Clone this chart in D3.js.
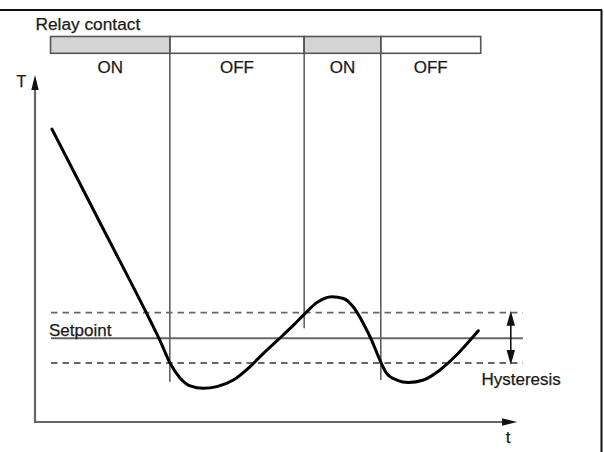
<!DOCTYPE html>
<html>
<head>
<meta charset="utf-8">
<script src="https://cdn.jsdelivr.net/npm/d3@7"></script>
<style>
  html, body { margin: 0; padding: 0; background: #fff; }
  svg { display: block; }
  text { font-family: "Liberation Sans", Arial, Helvetica, sans-serif; fill: #1a1a1a; stroke: #1a1a1a; stroke-width: 0.25px; }
</style>
</head>
<body>
<svg id="chart" width="604" height="452"></svg>
<script>
// ---- data (t and T in arbitrary units 0..100) ----
const relayStates = ["ON", "OFF", "ON", "OFF"];
const relaySwitchTimes = [3.2, 27.8, 55.5, 71.3, 91.9];
const dividerBottomT = [11.6, 27.0, 12.1];     // lower end of each switching line
const curveT = [3.5, 13.6, 23.7, 25.8, 27.8, 29.9, 32.0, 34.7, 37.5, 40.9, 44.3, 47.1, 50.2, 53.3, 55.5, 58.1, 61.2, 63.6, 65.6, 67.7, 69.4, 71.1, 72.5, 74.6, 77.0, 80.1, 83.5, 86.9, 91.4];
const curveTemp = [84.4, 56.9, 29.4, 23.4, 17.1, 12.7, 10.4, 9.7, 10.2, 12.1, 15.9, 19.8, 23.8, 27.9, 31.0, 34.4, 36.1, 35.6, 33.2, 28.4, 23.6, 17.9, 14.0, 12.1, 11.4, 12.1, 15.0, 19.3, 26.3];
const setpoint = 24.1;
const hystUpper = 31.5;
const hystLower = 17.0;
const bandStart = 3.3, bandEnd = 100.6;
const hystArrowT = 98.1;
const axisMaxT = 99.4, axisMaxTemp = 100;

const svg = d3.select("#chart");
const x = d3.scaleLinear().domain([0, 100]).range([35, 520]);
const y = d3.scaleLinear().domain([0, 100]).range([422, 75]);

// frame
svg.append("line").attr("x1", 0).attr("x2", 602).attr("y1", 10).attr("y2", 10)
  .attr("stroke", "#111").attr("stroke-width", 2);
svg.append("line").attr("x1", 601.5).attr("x2", 601.5).attr("y1", 10).attr("y2", 452)
  .attr("stroke", "#111").attr("stroke-width", 2);

// relay bar
const barTop = 36.5, barH = 16.8;
const segs = relayStates.map((s, i) => ({ s, a: relaySwitchTimes[i], b: relaySwitchTimes[i + 1] }));
svg.selectAll("rect.seg").data(segs).enter().append("rect")
  .attr("x", d => x(d.a)).attr("y", barTop)
  .attr("width", d => x(d.b) - x(d.a)).attr("height", barH)
  .attr("fill", d => d.s === "ON" ? "#d4d4d4" : "#fff")
  .attr("stroke", "#555").attr("stroke-width", 1.6);
svg.selectAll("text.state").data(segs).enter().append("text")
  .attr("x", d => (x(d.a) + x(d.b)) / 2).attr("y", 72.7)
  .attr("text-anchor", "middle").attr("font-size", 17).text(d => d.s);
svg.append("text").attr("x", 35.5).attr("y", 30).attr("font-size", 17.3).text("Relay contact");

// switching lines
svg.selectAll("line.div").data(relaySwitchTimes.slice(1, 4)).enter().append("line")
  .attr("x1", d => x(d)).attr("x2", d => x(d))
  .attr("y1", barTop).attr("y2", (d, i) => y(dividerBottomT[i]))
  .attr("stroke", "#555").attr("stroke-width", 1.5);

// hysteresis band
[hystUpper, hystLower].forEach(v => {
  svg.append("line").attr("x1", x(bandStart)).attr("x2", x(bandEnd))
    .attr("y1", y(v)).attr("y2", y(v))
    .attr("stroke", "#666").attr("stroke-width", 1.8).attr("stroke-dasharray", "6.5,5");
});
svg.append("line").attr("x1", x(bandStart)).attr("x2", x(bandEnd))
  .attr("y1", y(setpoint)).attr("y2", y(setpoint))
  .attr("stroke", "#666").attr("stroke-width", 2);
svg.append("text").attr("x", 49).attr("y", 335.7).attr("font-size", 17).text("Setpoint");

// hysteresis double arrow
const ha = x(hystArrowT);
svg.append("line").attr("x1", ha).attr("x2", ha).attr("y1", y(hystUpper) + 8).attr("y2", y(hystLower) - 8)
  .attr("stroke", "#111").attr("stroke-width", 1.6);
svg.append("path").attr("d", `M${ha},${y(hystUpper) - 2} l-4.2,15 l8.4,0 z`).attr("fill", "#111");
svg.append("path").attr("d", `M${ha},${y(hystLower) + 2} l-4.2,-15 l8.4,0 z`).attr("fill", "#111");
svg.append("text").attr("x", 481.5).attr("y", 385).attr("font-size", 17).text("Hysteresis");

// axes
svg.append("line").attr("x1", x(0)).attr("x2", x(0)).attr("y1", y(0) + 1).attr("y2", y(axisMaxTemp) + 12)
  .attr("stroke", "#666").attr("stroke-width", 2.2);
svg.append("line").attr("x1", x(0) - 1).attr("x2", x(axisMaxT) - 12).attr("y1", y(0)).attr("y2", y(0))
  .attr("stroke", "#666").attr("stroke-width", 2.2);
svg.append("path").attr("d", `M${x(0)},${y(axisMaxTemp)} l-3.7,15 l7.4,0 z`).attr("fill", "#111");
svg.append("path").attr("d", `M${x(axisMaxT)},${y(0)} l-15,-3.7 l0,7.4 z`).attr("fill", "#111");
svg.append("text").attr("x", 16.5).attr("y", 87).attr("font-size", 16).text("T");
svg.append("text").attr("x", 508).attr("y", 443).attr("text-anchor", "middle").attr("font-size", 17).text("t");

// temperature curve
const pts = curveT.map((t, i) => [t, curveTemp[i]]);
const line = d3.line().x(d => x(d[0])).y(d => y(d[1])).curve(d3.curveMonotoneX);
svg.append("path").attr("d", line(pts)).attr("fill", "none")
  .attr("stroke", "#000").attr("stroke-width", 3).attr("stroke-linecap", "round").attr("stroke-linejoin", "round");
</script>
</body>
</html>
